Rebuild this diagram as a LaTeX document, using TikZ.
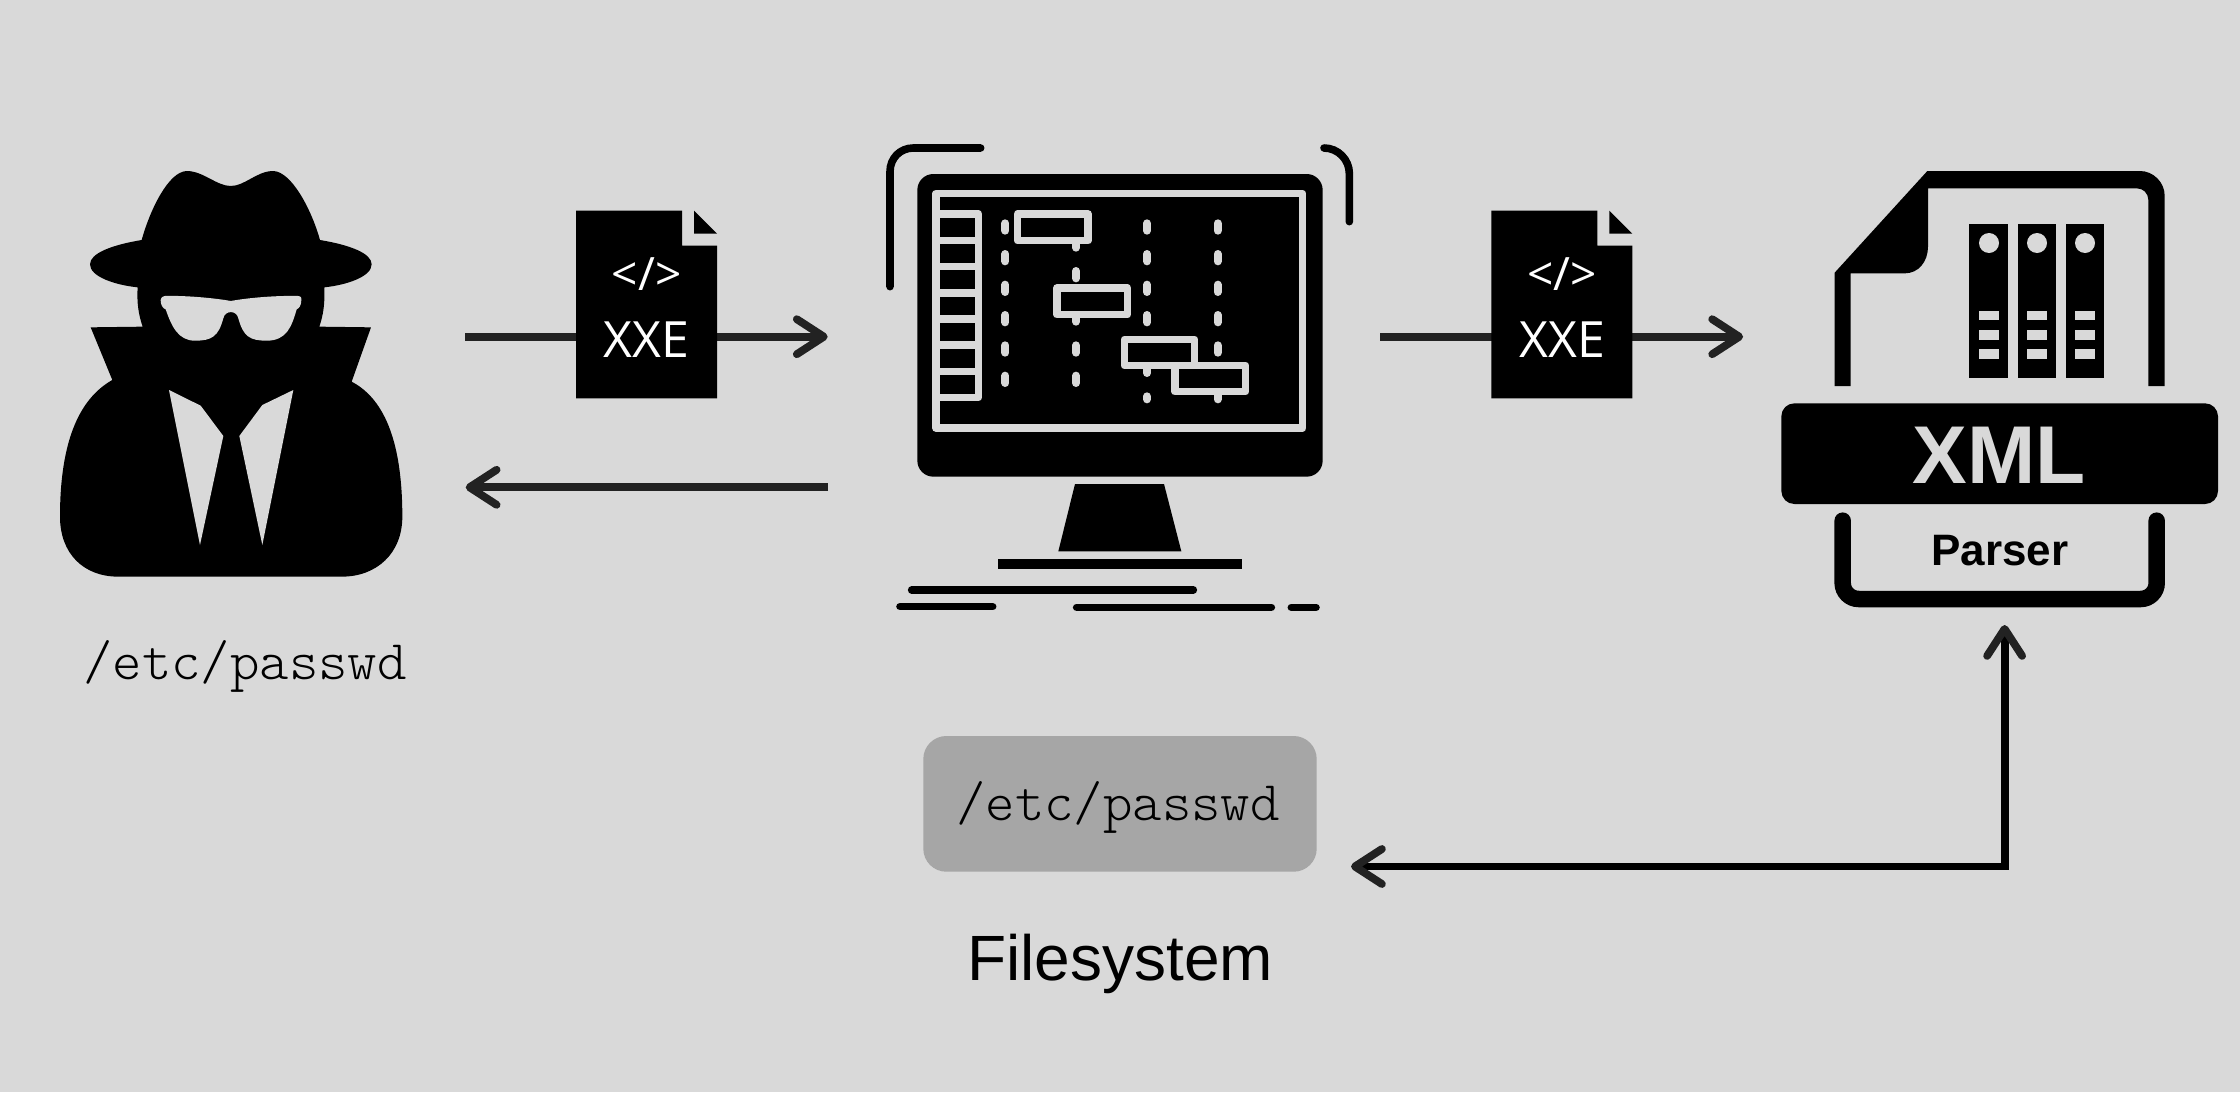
\documentclass[tikz,border=0pt]{standalone}
\usepackage{fontspec}
\setmainfont{Liberation Sans}
\newfontfamily\docfont{Open Sans}
\newfontfamily\pathfont{Latin Modern Mono Light}
\usetikzlibrary{arrows.meta}
\definecolor{bgc}{HTML}{D9D9D9}
\definecolor{linec}{HTML}{222222}
\definecolor{boxc}{HTML}{A6A6A6}
\tikzset{
  zoomed/.style={x=0.33333pt,y=-0.33333pt},
  barb/.tip={Straight Barb[length=27pt,width=35pt,round,color=linec]},
  flow/.style={draw=linec,line width=7.8pt,-{barb}},
  txt/.style={inner sep=0pt,outer sep=0pt,anchor=base},
  pathtxt/.style={txt,font=\pathfont\fontsize{56}{56}\selectfont},
  ink/.style={fill=black,draw=none},
  cut/.style={fill=bgc,draw=none},
  glow/.style={draw=bgc,line width=7.6pt},
  dotline/.style={draw=bgc,line width=8pt,line cap=round},
  scribble/.style={draw=black,line width=7.6pt,line cap=round},
  panel/.style={draw=bgc,line width=7.6pt,line join=round},
  xxedoc/.pic={
    \begin{scope}[zoomed]
      \fill[black] (378,62) -- (696,62) -- (696,167) -- (801,167) -- (801,625) -- (378,625) -- cycle;
      \fill[black] (732,62) -- (801,131) -- (732,131) -- cycle;
      \node[txt,text=white,font=\docfont\fontsize{46}{46}\selectfont] (-code) at (590,300) {</>};
      \node[txt,text=white,font=\docfont\fontsize{50}{50}\selectfont] (-name) at (590,503) {XXE};
    \end{scope}
  }
}
\begin{document}
\begin{tikzpicture}[x=1pt,y=-1pt]
\path[use as bounding box,fill=bgc] (0,0) rectangle (2240,1092);

% anchors for connectors
\coordinate (spyout) at (465,336.7);
\coordinate (moninA) at (827.7,336.7);
\coordinate (monout) at (828,487.3);
\coordinate (spyin) at (465.7,487.3);
\coordinate (monoutB) at (1380.4,336.7);
\coordinate (xmlin) at (1743.1,336.7);
\coordinate (xmlbottom) at (2004.6,625);
\coordinate (fsright) at (1351,866.5);

% connectors
\draw[flow] (spyout) -- (moninA);
\draw[flow] (monout) -- (spyin);
\draw[flow] (monoutB) -- (xmlin);
\draw[draw=black,line width=7.8pt,{barb}-{barb},line join=miter] (xmlbottom) |- (fsright);

% spy
\begin{scope}[shift={(40,150)},zoomed]
  \fill[black] (305,270) .. controls (330,180) and (385,65) .. (440,63)
    .. controls (490,63) and (530,108) .. (572,108)
    .. controls (615,108) and (650,63) .. (700,63)
    .. controls (755,65) and (815,180) .. (840,270)
    .. controls (930,285) and (995,310) .. (995,343)
    .. controls (995,380) and (920,405) .. (853,412)
    .. controls (855,460) and (850,495) .. (838,530)
    -- (993,532) -- (935,695)
    .. controls (1040,750) and (1087,890) .. (1087,1100)
    .. controls (1087,1210) and (1010,1280) .. (905,1280)
    -- (235,1280)
    .. controls (130,1280) and (60,1210) .. (60,1100)
    .. controls (60,890) and (110,750) .. (217,690)
    -- (152,532) -- (308,530)
    .. controls (296,495) and (290,460) .. (293,412)
    .. controls (225,405) and (150,380) .. (150,343)
    .. controls (150,310) and (215,285) .. (305,270) -- cycle;
  \fill[cut] (375,438) .. controls (440,436) and (530,445) .. (572,453)
    .. controls (615,445) and (700,436) .. (775,438)
    .. controls (785,440) and (785,445) .. (784,450)
    .. controls (784,465) and (778,475) .. (770,478)
    .. controls (755,530) and (740,572) .. (680,572)
    .. controls (630,572) and (610,560) .. (595,505)
    .. controls (590,480) and (555,480) .. (550,505)
    .. controls (535,560) and (515,572) .. (465,572)
    .. controls (415,572) and (395,530) .. (377,478)
    .. controls (368,475) and (362,465) .. (362,450)
    .. controls (362,445) and (365,440) .. (375,438) -- cycle;
  \fill[cut] (387,720) -- (482,767) -- (550,858) -- (480,1185) -- cycle;
  \fill[cut] (760,720) -- (667,765) -- (598,858) -- (667,1185) -- cycle;
\end{scope}
\node[pathtxt] (spypath) at (245,679) {/etc/passwd};

% documents
\pic (docA) at (450,190) {xxedoc};
\pic (docB) at (1365.4,190) {xxedoc};

% monitor
\begin{scope}[shift={(860,130)},zoomed]
  \draw[draw=black,line width=7.6pt,line cap=round] (362,54) -- (160,54) .. controls (120,54) and (90,85) .. (90,125) -- (90,470);
  \draw[draw=black,line width=7.6pt,line cap=round] (1392,54) .. controls (1435,54) and (1468,90) .. (1468,130) -- (1468,275);
  \fill[black,rounded corners=16pt] (172,132) rectangle (1388,1040);
  \draw[panel] (228,191) rectangle (1328,894);
  \draw[panel] (228,252) -- (355,252) -- (355,802) -- (228,802);
  \foreach \yy in {331.5,410,488.5,567.5,645.5,724.5}
    \draw[glow] (228,\yy) -- (355,\yy);
  \foreach \xx/\yy in {436/268,436/360,436/452,436/543,436/634,436/725,
                       648/411,648/634,648/725,
                       861/268,861/360,861/452,861/543,
                       1073/268,1073/360,1073/452,1073/543,1073/634}
    \draw[dotline] (\xx,\yy+12) -- (\xx,\yy+34);
  \draw[dotline] (648,335) -- (648,353);
  \draw[dotline] (648,558) -- (648,575);
  \draw[dotline] (861,711) -- (861,729);
  \draw[dotline] (861,799) -- (861,808);
  \draw[dotline] (1073,790) -- (1073,808);
  \draw[panel] (473,252) rectangle (684,332);
  \draw[panel] (591,474) rectangle (802,554);
  \draw[panel] (793,628) rectangle (1004,707);
  \draw[panel] (945,706) rectangle (1157,785);
  \fill[black] (645,1062) -- (912,1062) -- (964,1264) -- (595,1264) -- cycle;
  \fill[black] (414,1286) rectangle (1145,1318);
  \draw[scribble] (155,1380) -- (1000,1380);
  \draw[scribble] (120,1430) -- (398,1430);
  \draw[scribble] (650,1432) -- (1234,1432);
  \draw[scribble] (1294,1432) -- (1368,1432);
\end{scope}

% XML parser
\begin{scope}[shift={(1770,150)},zoomed]
  \fill[black] (194,708) -- (194,368) -- (472,63) -- (1110,63)
    .. controls (1150,63) and (1184,97) .. (1184,137) -- (1184,708) -- (1135,708) -- (1135,150)
    .. controls (1135,130) and (1120,115) .. (1100,115) -- (474,115) -- (474,290)
    .. controls (474,335) and (445,370) .. (405,370)
    -- (242,370) -- (242,708) -- cycle;
  \foreach \xa/\xb/\xc in {598/714/627,744/858/771,888/1003/915} {
    \fill[black] (\xa,222) rectangle (\xb,684);
    \fill[cut] (\xc+30,279) circle[radius=10pt];
    \foreach \yy in {482,540,597}
      \fill[cut] (\xc,\yy) rectangle (\xc+60,\yy+29);
  }
  \fill[black,rounded corners=13pt] (34,760) rectangle (1344,1062);
  \node[txt,text=bgc,font=\bfseries\fontsize{82}{82}\selectfont] (xmltext) at (688,1000) {XML};
  \draw[draw=black,line width=16.5pt,line cap=round,rounded corners=16pt]
    (218,1112) -- (218,1347) -- (1160,1347) -- (1160,1112);
  \node[txt,font=\bfseries\fontsize{44}{44}\selectfont] (parser) at (690,1247) {Parser};
\end{scope}

% filesystem
\fill[boxc,rounded corners=23pt] (923.3,736) rectangle (1316.7,871.7);
\node[pathtxt] (fspath) at (1118,820) {/etc/passwd};
\node[txt,font=\fontsize{64}{64}\selectfont] (fslabel) at (1120,980.7) {Filesystem};
\end{tikzpicture}
\end{document}
